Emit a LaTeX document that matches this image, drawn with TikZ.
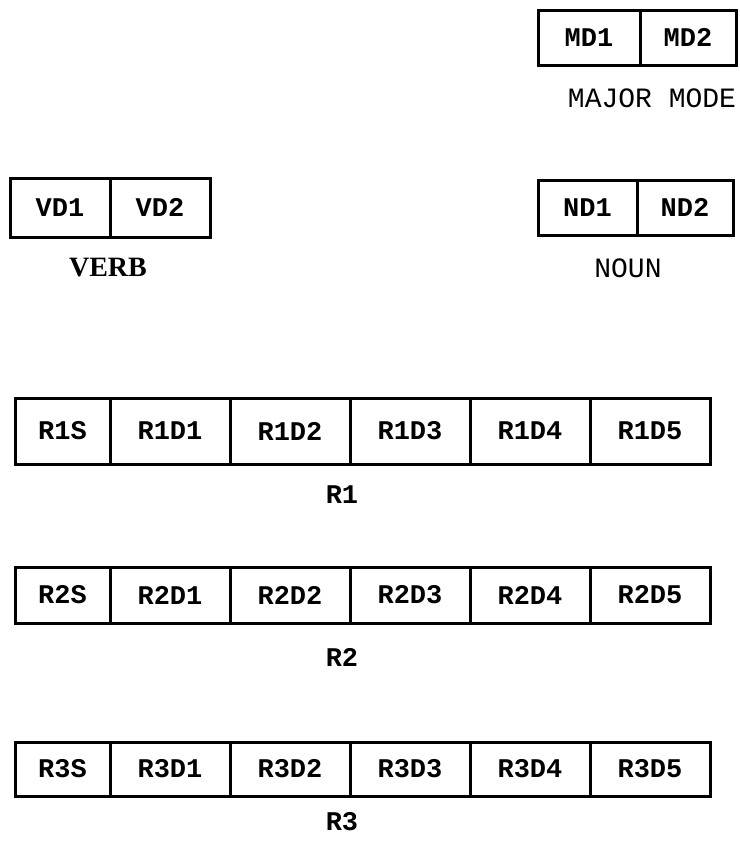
\documentclass[tikz,border=0pt]{standalone}
\usepackage{fontspec}
\setmainfont{Liberation Serif}
\setmonofont{Liberation Mono}
\begin{document}
\begin{tikzpicture}[x=1pt,y=-1pt]
% Styles
\tikzstyle{case}=[draw,line width=1.5pt,inner sep=0pt,font={\fontsize{13.5}{15}\selectfont\ttfamily\bfseries}]
\tikzstyle{legende}=[inner sep=1pt,font={\fontsize{13.5}{15}\selectfont\ttfamily\bfseries}]
\tikzstyle{titre}=[inner sep=1pt,font={\fontsize{14}{16}\selectfont\ttfamily}]
\tikzstyle{titregras}=[inner sep=1pt,font={\fontsize{14}{16}\selectfont\rmfamily\bfseries}]
% Dimensions
\useasboundingbox[fill=white] (0,0) rectangle (370,421.5);
\def\LargeurS{47.5pt}
\def\LargeurD{60pt}
\def\HauteurA{33pt}
\def\HauteurB{28pt}
\def\HauteurC{27pt}
% Positions calculées
\def\LigneA{215.5}
\def\LigneB{297.5}
\def\LigneC{384.5}
\def\ColS{31.25}
\def\ColA{85}
\def\ColB{145}
\def\ColC{205}
\def\ColD{265}
\def\ColE{325}
% Noeuds : mode majeur
\node[case,minimum width=51pt,minimum height=27.5pt] (MD1) at (294.5,18.75) {MD1};
\node[case,minimum width=48pt,minimum height=27.5pt] (MD2) at (344,18.75) {MD2};
\node[titre] (MAJ) at (326,49) {MAJOR MODE};
% Noeuds : verbe
\node[case,minimum width=50pt,minimum height=29.5pt] (VD1) at (30,103.75) {VD1};
\node[case,minimum width=50pt,minimum height=29.5pt] (VD2) at (80,103.75) {VD2};
\node[titregras] (VERB) at (54,134) {VERB};
% Noeuds : nom
\node[case,minimum width=49.5pt,minimum height=27.5pt] (ND1) at (293.75,103.75) {ND1};
\node[case,minimum width=48pt,minimum height=27.5pt] (ND2) at (342.5,103.75) {ND2};
\node[titre] (NOUN) at (314,134) {NOUN};
% Noeuds : R1
\node[case,minimum width=\LargeurS,minimum height=\HauteurA] (R1S) at ({\ColS},{\LigneA}) {R1S};
\node[case,minimum width=\LargeurD,minimum height=\HauteurA] (R1D1) at ({\ColA},{\LigneA}) {R1D1};
\node[case,minimum width=\LargeurD,minimum height=\HauteurA] (R1D2) at ({\ColB},{\LigneA}) {R1D2};
\node[case,minimum width=\LargeurD,minimum height=\HauteurA] (R1D3) at ({\ColC},{\LigneA}) {R1D3};
\node[case,minimum width=\LargeurD,minimum height=\HauteurA] (R1D4) at ({\ColD},{\LigneA}) {R1D4};
\node[case,minimum width=\LargeurD,minimum height=\HauteurA] (R1D5) at ({\ColE},{\LigneA}) {R1D5};
\node[legende] (R1) at (171,247.5) {R1};
% Noeuds : R2
\node[case,minimum width=\LargeurS,minimum height=\HauteurB] (R2S) at ({\ColS},{\LigneB}) {R2S};
\node[case,minimum width=\LargeurD,minimum height=\HauteurB] (R2D1) at ({\ColA},{\LigneB}) {R2D1};
\node[case,minimum width=\LargeurD,minimum height=\HauteurB] (R2D2) at ({\ColB},{\LigneB}) {R2D2};
\node[case,minimum width=\LargeurD,minimum height=\HauteurB] (R2D3) at ({\ColC},{\LigneB}) {R2D3};
\node[case,minimum width=\LargeurD,minimum height=\HauteurB] (R2D4) at ({\ColD},{\LigneB}) {R2D4};
\node[case,minimum width=\LargeurD,minimum height=\HauteurB] (R2D5) at ({\ColE},{\LigneB}) {R2D5};
\node[legende] (R2) at (171,328.5) {R2};
% Noeuds : R3
\node[case,minimum width=\LargeurS,minimum height=\HauteurC] (R3S) at ({\ColS},{\LigneC}) {R3S};
\node[case,minimum width=\LargeurD,minimum height=\HauteurC] (R3D1) at ({\ColA},{\LigneC}) {R3D1};
\node[case,minimum width=\LargeurD,minimum height=\HauteurC] (R3D2) at ({\ColB},{\LigneC}) {R3D2};
\node[case,minimum width=\LargeurD,minimum height=\HauteurC] (R3D3) at ({\ColC},{\LigneC}) {R3D3};
\node[case,minimum width=\LargeurD,minimum height=\HauteurC] (R3D4) at ({\ColD},{\LigneC}) {R3D4};
\node[case,minimum width=\LargeurD,minimum height=\HauteurC] (R3D5) at ({\ColE},{\LigneC}) {R3D5};
\node[legende] (R3) at (171,411) {R3};
\end{tikzpicture}
\end{document}
